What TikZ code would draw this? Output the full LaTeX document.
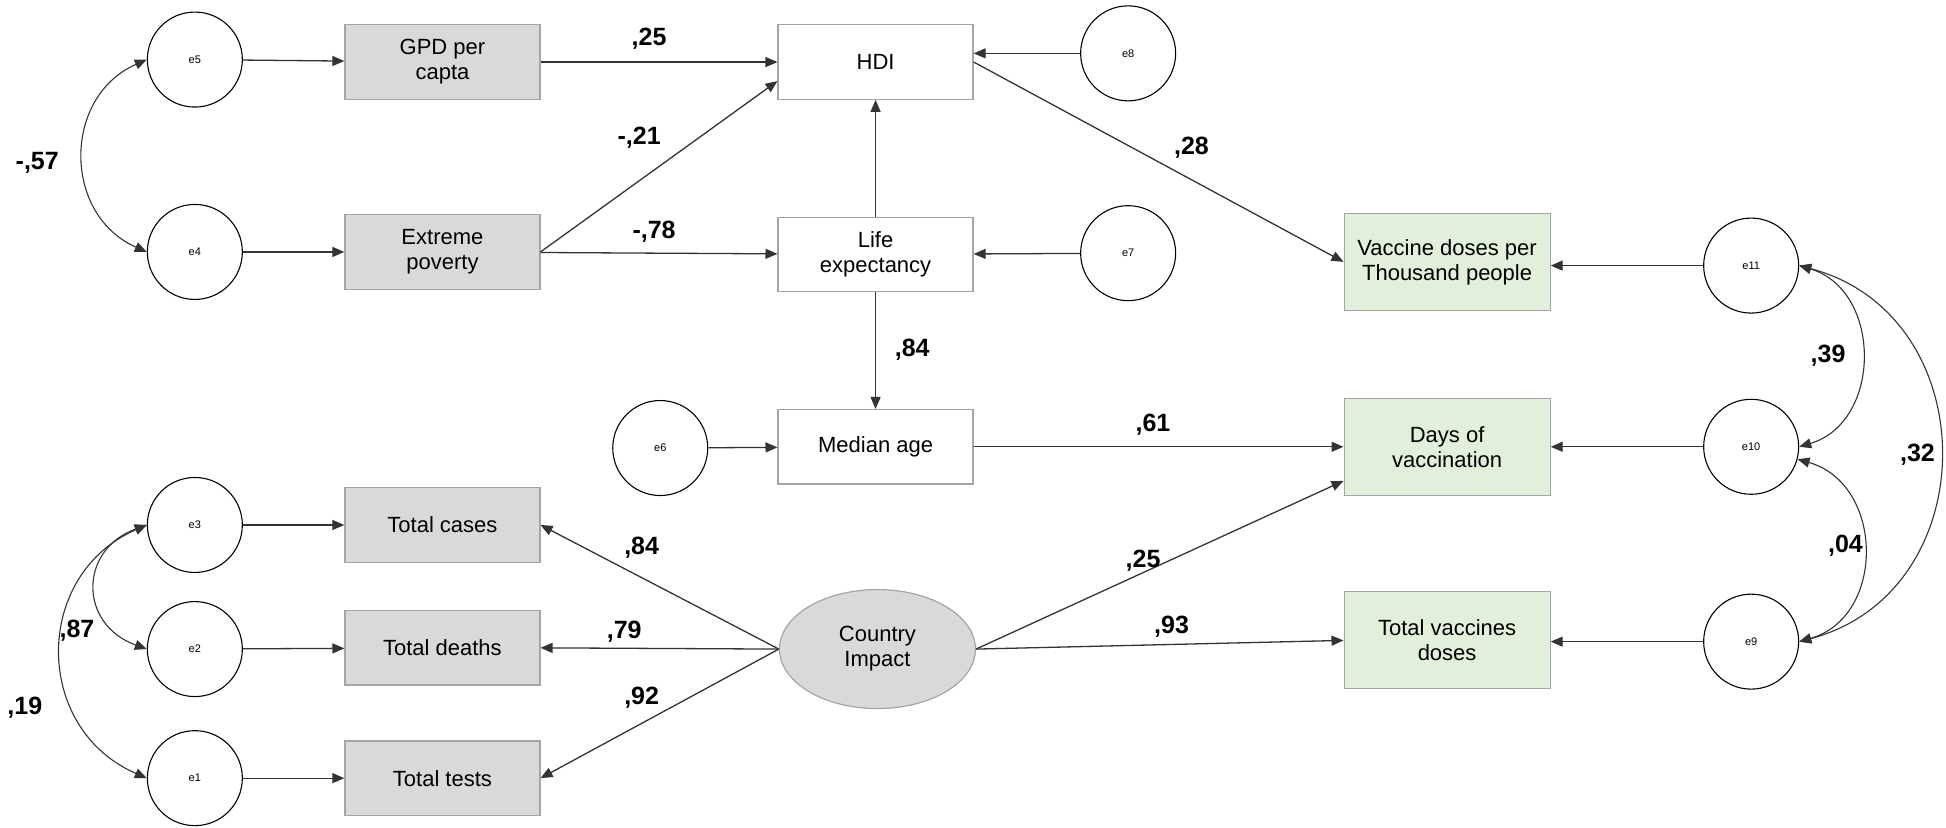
\documentclass[tikz,border=0pt]{standalone}
\usepackage{fontspec}
\setmainfont{Liberation Sans}
\usetikzlibrary{arrows.meta,shapes.geometric}
\definecolor{boxgray}{RGB}{217,217,217}
\definecolor{boxgreen}{RGB}{226,239,218}
\definecolor{edgegray}{RGB}{165,165,165}
\begin{document}
\begin{tikzpicture}[x=1.2411pt,y=-1.2411pt,
  every node/.style={font=\fontsize{22}{25}\selectfont, align=center, inner sep=0pt},
  obs/.style={draw=edgegray, line width=1.2pt, minimum width=195pt, minimum height=74.5pt},
  gbox/.style={obs, fill=boxgray},
  wbox/.style={obs, fill=white},
  vbox/.style={draw=edgegray, line width=1.2pt, fill=boxgreen, minimum width=206pt, minimum height=97pt},
  err/.style={circle, draw=black, line width=1.1pt, minimum size=95pt, font=\fontsize{11}{12}\selectfont},
  lat/.style={ellipse, draw=edgegray, fill=boxgray, line width=1.2pt, minimum width=196pt, minimum height=119pt},
  arr/.style={draw=black!80, line width=1.3pt, -{Triangle[length=12pt,width=10pt]}},
  cov/.style={draw=black!80, line width=1.1pt, {Triangle[length=12pt,width=10pt]}-{Triangle[length=12pt,width=10pt]}},
  coef/.style={font=\bfseries\fontsize{25}{28}\selectfont}
]
\useasboundingbox (0,0) rectangle (1568,667);
% error terms
\node[err] (e5) at (157,48) {e5};
\node[err] (e4) at (157,203) {e4};
\node[err] (e3) at (157,423) {e3};
\node[err] (e2) at (157,523) {e2};
\node[err] (e1) at (157,627) {e1};
\node[err] (e8) at (909,43) {e8};
\node[err] (e7) at (909,204) {e7};
\node[err] (e6) at (532,361) {e6};
\node[err] (e11) at (1411,214) {e11};
\node[err] (e10) at (1411,360) {e10};
\node[err] (e9) at (1411,517) {e9};
% observed
\node[gbox] (gdp) at (356.5,50) {GPD per\\capta};
\node[gbox] (pov) at (356.5,203) {Extreme\\poverty};
\node[wbox] (hdi) at (705.5,50) {HDI};
\node[wbox] (life) at (705.5,205) {Life\\expectancy};
\node[wbox] (med) at (705.5,360) {Median age};
\node[vbox] (vac) at (1166,211) {Vaccine doses per\\Thousand people};
\node[vbox] (days) at (1166,360) {Days of\\vaccination};
\node[vbox] (tvd) at (1166,516) {Total vaccines\\doses};
\node[gbox] (tc) at (356.5,423) {Total cases};
\node[gbox] (td) at (356.5,522) {Total deaths};
\node[gbox] (tt) at (356.5,627) {Total tests};
\node[lat] (ci) at (707,523) {Country\\Impact};
% paths
\draw[arr] (e5) -- (gdp);
\draw[arr] (e4) -- (pov);
\draw[arr] (gdp) -- (hdi);
\draw[arr] (pov.east) -- ([yshift=-19pt]hdi.west);
\draw[arr] (pov) -- (life);
\draw[arr] (e8.west) -- (e8.west -| hdi.east);
\draw[arr] (e7) -- (life);
\draw[arr] (life) -- (hdi);
\draw[arr] (life) -- (med);
\draw[arr] (hdi.east) -- (vac.west);
\draw[arr] (e6) -- (med);
\draw[arr] (med) -- (days);
\draw[arr] (ci.east) -- ([yshift=15pt]days.south west);
\draw[arr] (ci.east) -- (tvd.west);
\draw[arr] (e11.west) -- (e11.west -| vac.east);
\draw[arr] (e10) -- (days);
\draw[arr] (e9.west) -- (e9.west -| tvd.east);
\draw[arr] (e3) -- (tc);
\draw[arr] (e2) -- (td);
\draw[arr] (e1) -- (tt);
\draw[arr] (ci.west) -- (tc.east);
\draw[arr] (ci.west) -- (td.east);
\draw[arr] (ci.west) -- (tt.east);
% covariances
\draw[cov] (e5.west) .. controls +(-68,30) and +(-68,-30) .. (e4.west);
\draw[cov] (e3.west) .. controls +(-55,20) and +(-55,-20) .. (e2.west);
\draw[cov] (e3.west) .. controls +(-92,40) and +(-92,-40) .. (e1.west);
\draw[cov] (e11.east) .. controls +(67,20) and +(67,-20) .. (e10.east);
\draw[cov] (e10.-15) .. controls +(70,20) and +(70,-20) .. (e9.east);
\draw[cov] (e11.east) .. controls +(151,40) and +(151,-40) .. (e9.east);
% coefficients
\node[coef] (c1) at (523,31) {,25};
\node[coef] (c2) at (515,111) {-,21};
\node[coef] (c3) at (527,187) {-,78};
\node[coef] (c4) at (30,131) {-,57};
\node[coef] (c5) at (960,119) {,28};
\node[coef] (c6) at (735,282) {,84};
\node[coef] (c7) at (929,342) {,61};
\node[coef] (c8) at (517,441) {,84};
\node[coef] (c9) at (503,509) {,79};
\node[coef] (c10) at (517,562) {,92};
\node[coef] (c11) at (62,508) {,87};
\node[coef] (c12) at (20,570) {,19};
\node[coef] (c13) at (921,452) {,25};
\node[coef] (c14) at (944,505) {,93};
\node[coef] (c15) at (1473,287) {,39};
\node[coef] (c16) at (1487,440) {,04};
\node[coef] (c17) at (1545,366) {,32};
\end{tikzpicture}
\end{document}
